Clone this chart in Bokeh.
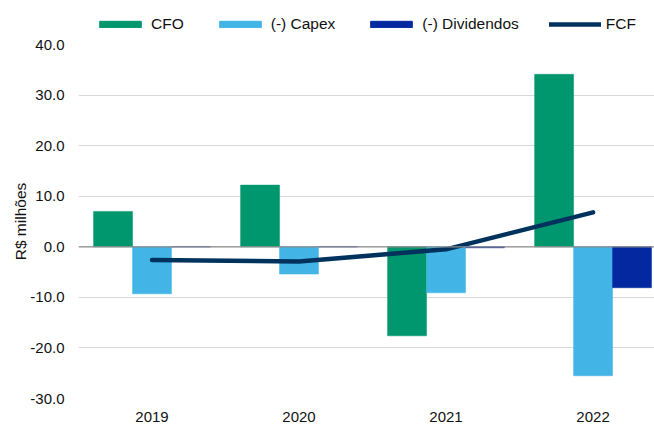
import numpy as np
from bokeh.plotting import figure
from bokeh.layouts import column
from bokeh.models import (Range1d, FixedTicker, Legend, LegendItem, Span,
                          ColumnDataSource, PrintfTickFormatter)
from bokeh.transform import dodge
from bokeh.embed import file_html
from bokeh.resources import INLINE

years = ["2019", "2020", "2021", "2022"]
cfo = [7.0, 12.2, -17.6, 34.1]
capex = [-9.3, -5.4, -9.1, -25.5]
dividendos = [0.0, 0.0, -0.2, -8.1]
fcf = [-2.6, -2.9, -0.5, 6.8]
y_ticks = [-30, -20, -10, 0, 10, 20, 30, 40]

FONT = "Liberation Sans"
FS = "15px"
LFS = "15.5px"
TXT = "#111111"
C_CFO = "#00966E"
C_CAPEX = "#42B5E6"
C_DIV = "#0328A0"
C_FCF = "#00325E"

src = ColumnDataSource(dict(x=list(range(len(years))), cfo=cfo, capex=capex,
                            div=dividendos, fcf=fcf))
bw = 0.265

# ---------------- main chart ----------------
p = figure(width=654, height=391, output_backend="svg", toolbar_location=None,
           x_range=Range1d(-0.5, 3.418), y_range=Range1d(-30, 40),
           min_border_left=78, min_border_right=0, min_border_top=11,
           min_border_bottom=25)

p.vbar(x=dodge("x", -bw, range=p.x_range), top="cfo", bottom=0, width=bw,
       source=src, fill_color=C_CFO, line_color=C_CFO, line_width=0.5)
p.vbar(x="x", top="capex", bottom=0, width=bw,
       source=src, fill_color=C_CAPEX, line_color=C_CAPEX, line_width=0.5)
p.vbar(x=dodge("x", bw, range=p.x_range), top="div", bottom=0, width=bw,
       source=src, fill_color=C_DIV, line_color=C_DIV, line_width=0.5)

zero = Span(location=0, dimension="width", line_color="#8c8c8c", line_width=1.3,
            level="glyph")
p.add_layout(zero)

p.line(x="x", y="fcf", source=src, line_color=C_FCF, line_width=4.5,
       line_cap="round", line_join="round")

p.xaxis.ticker = FixedTicker(ticks=list(range(len(years))))
p.xaxis.major_label_overrides = {i: y for i, y in enumerate(years)}
p.yaxis.ticker = FixedTicker(ticks=y_ticks)
p.yaxis.formatter = PrintfTickFormatter(format="%.1f")
for ax in (p.xaxis, p.yaxis):
    ax.axis_line_color = None
    ax.major_tick_line_color = None
    ax.minor_tick_line_color = None
    ax.major_tick_out = 0
    ax.major_tick_in = 0
    ax.minor_tick_out = 0
    ax.minor_tick_in = 0
    ax.major_label_text_font = FONT
    ax.major_label_text_font_size = FS
    ax.major_label_text_color = TXT
p.xaxis.major_label_standoff = 13
p.yaxis.major_label_standoff = 14
p.yaxis.axis_label = "R$ milhões"
p.yaxis.axis_label_text_font = FONT
p.yaxis.axis_label_text_font_size = LFS
p.yaxis.axis_label_text_font_style = "normal"
p.yaxis.axis_label_text_color = TXT
p.yaxis.axis_label_standoff = -2

p.xgrid.grid_line_color = None
p.ygrid.grid_line_color = "#d9d9d9"
p.ygrid.grid_line_width = 1
p.outline_line_color = None

# ---------------- legend strip (its glyphs sit outside its visible range) ----------------
lf = figure(width=654, height=33, output_backend="svg", toolbar_location=None,
            x_axis_type=None, y_axis_type=None,
            x_range=Range1d(100, 101), y_range=Range1d(100, 101),
            min_border_left=0, min_border_right=0, min_border_top=0,
            min_border_bottom=0)
lf.xgrid.grid_line_color = None
lf.ygrid.grid_line_color = None
lf.outline_line_color = None
l_cfo = lf.vbar(x="x", top="cfo", width=bw, source=src,
                fill_color=C_CFO, line_color=C_CFO)
l_cap = lf.vbar(x="x", top="capex", width=bw, source=src,
                fill_color=C_CAPEX, line_color=C_CAPEX)
l_div = lf.vbar(x="x", top="div", width=bw, source=src,
                fill_color=C_DIV, line_color=C_DIV)
l_fcf = lf.line(x="x", y="fcf", source=src, line_color=C_FCF, line_width=4.5,
                line_cap="round")

legend = Legend(items=[LegendItem(label="CFO", renderers=[l_cfo]),
                       LegendItem(label="(-) Capex", renderers=[l_cap]),
                       LegendItem(label="(-) Dividendos", renderers=[l_div]),
                       LegendItem(label="FCF", renderers=[l_fcf])],
                orientation="horizontal", location=(16, 0),
                glyph_width=52, glyph_height=8, label_standoff=5, spacing=30,
                padding=0, margin=0, label_text_font=FONT,
                label_text_font_size=LFS, label_text_color=TXT,
                background_fill_alpha=0, border_line_alpha=0)
lf.add_layout(legend)

layout = column(lf, p, spacing=0)
open("out.html", "w").write(file_html(layout, INLINE))
